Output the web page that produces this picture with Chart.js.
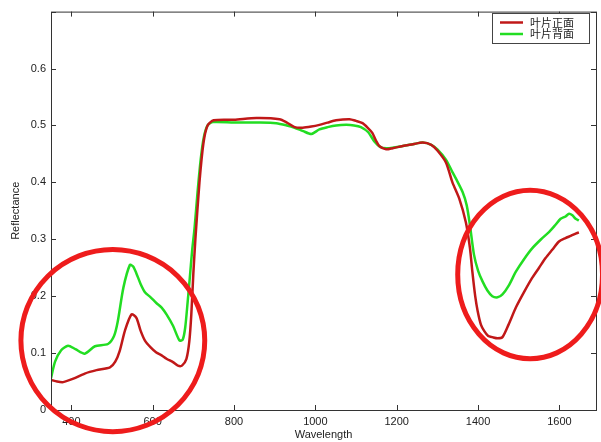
<!DOCTYPE html>
<html>
<head>
<meta charset="utf-8">
<script src="https://cdn.jsdelivr.net/npm/chart.js@4.4.0/dist/chart.umd.min.js"></script>
<style>
  html, body { margin: 0; padding: 0; background: #fff; }
  #wrap { width: 601px; height: 442px; }
</style>
</head>
<body>
<div id="wrap"><canvas id="specChart" width="601" height="442"></canvas></div>
<script>
const frontLabel = "叶片正面";
const backLabel = "叶片背面";

const frontWl = [350, 365, 380, 405, 433, 462, 495, 508, 519, 532, 548, 560, 570, 581, 595, 609, 622, 634, 650, 662, 672, 683, 690, 695, 700, 705, 715, 725, 735, 750, 800, 855, 912, 930, 949, 969, 990, 1010, 1030, 1051, 1084, 1100, 1116, 1130, 1140, 1150, 1157, 1174, 1190, 1215, 1240, 1264, 1285, 1300, 1321, 1337, 1354, 1370, 1380, 1386, 1393, 1399, 1407, 1415, 1425, 1435, 1448, 1460, 1475, 1493, 1513, 1533, 1550, 1566, 1583, 1599, 1615, 1628, 1640, 1648];
const frontVal = [0.053, 0.050, 0.049, 0.055, 0.064, 0.070, 0.075, 0.085, 0.104, 0.140, 0.168, 0.162, 0.140, 0.122, 0.110, 0.101, 0.096, 0.090, 0.084, 0.078, 0.078, 0.090, 0.120, 0.168, 0.240, 0.300, 0.400, 0.470, 0.500, 0.509, 0.510, 0.513, 0.511, 0.505, 0.497, 0.496, 0.498, 0.501, 0.505, 0.509, 0.511, 0.508, 0.504, 0.495, 0.487, 0.472, 0.464, 0.458, 0.460, 0.464, 0.467, 0.470, 0.466, 0.456, 0.435, 0.400, 0.371, 0.330, 0.285, 0.243, 0.200, 0.174, 0.150, 0.139, 0.130, 0.128, 0.126, 0.128, 0.150, 0.180, 0.207, 0.232, 0.250, 0.267, 0.282, 0.296, 0.302, 0.306, 0.310, 0.312];

const backWl = [350, 360, 375, 392, 410, 433, 458, 490, 505, 514, 528, 544, 552, 560, 570, 581, 595, 609, 622, 634, 650, 666, 674, 680, 686, 691, 697, 703, 710, 718, 726, 735, 748, 800, 860, 904, 930, 949, 970, 990, 1010, 1030, 1051, 1076, 1095, 1112, 1130, 1145, 1160, 1175, 1190, 1215, 1240, 1264, 1285, 1300, 1321, 1337, 1346, 1362, 1372, 1380, 1390, 1400, 1411, 1423, 1435, 1448, 1460, 1475, 1493, 1513, 1533, 1555, 1575, 1590, 1603, 1615, 1624, 1632, 1640, 1648];
const backVal = [0.056, 0.085, 0.105, 0.113, 0.107, 0.099, 0.112, 0.116, 0.130, 0.155, 0.215, 0.255, 0.252, 0.240, 0.222, 0.207, 0.198, 0.188, 0.180, 0.168, 0.148, 0.122, 0.124, 0.145, 0.190, 0.230, 0.280, 0.320, 0.380, 0.440, 0.480, 0.500, 0.506, 0.505, 0.505, 0.504, 0.500, 0.496, 0.490, 0.485, 0.493, 0.497, 0.500, 0.501, 0.500, 0.497, 0.488, 0.472, 0.462, 0.460, 0.461, 0.464, 0.467, 0.470, 0.466, 0.458, 0.440, 0.418, 0.406, 0.383, 0.360, 0.325, 0.273, 0.245, 0.226, 0.210, 0.200, 0.198, 0.203, 0.218, 0.243, 0.265, 0.284, 0.300, 0.313, 0.325, 0.336, 0.340, 0.345, 0.342, 0.336, 0.333];

const xTicks = [400, 600, 800, 1000, 1200, 1400, 1600];
const yTicks = [0, 0.1, 0.2, 0.3, 0.4, 0.5, 0.6, 0.7];

// the two hand-drawn red rings, in data units: [centre wl, centre refl, half width wl, half height refl]
const rings = [
  [502, 0.122, 226, 0.160],
  [1528, 0.238, 178, 0.148]
];

const tickFont = { family: "'Liberation Sans', Arial, sans-serif", size: 11 };

function toPoints(wl, val) {
  return wl.map((w, i) => ({ x: w, y: val[i] }));
}

const matlabFrame = {
  id: "matlabFrame",
  afterDraw(chart) {
    const ctx = chart.ctx;
    const a = chart.chartArea;
    const xs = chart.scales.x;
    const ys = chart.scales.y;
    ctx.save();
    ctx.strokeStyle = "#333";
    ctx.lineWidth = 1;
    ctx.strokeRect(a.left + 0.5, a.top + 0.5, a.right - a.left, a.bottom - a.top);
    ctx.beginPath();
    xTicks.forEach(v => {
      const px = Math.round(xs.getPixelForValue(v)) + 0.5;
      ctx.moveTo(px, a.bottom); ctx.lineTo(px, a.bottom - 5);
      ctx.moveTo(px, a.top); ctx.lineTo(px, a.top + 5);
    });
    yTicks.forEach(v => {
      const py = Math.round(ys.getPixelForValue(v)) + 0.5;
      ctx.moveTo(a.left, py); ctx.lineTo(a.left + 5, py);
      ctx.moveTo(a.right, py); ctx.lineTo(a.right - 5, py);
    });
    ctx.stroke();

    // legend box
    const bx = 492, by = 13, bw = 97, bh = 30;
    ctx.fillStyle = "#fff";
    ctx.fillRect(bx, by, bw, bh);
    ctx.strokeStyle = "#444";
    ctx.strokeRect(bx + 0.5, by + 0.5, bw, bh);
    ctx.font = "11px 'Noto Sans CJK SC'";
    ctx.textBaseline = "middle";
    chart.data.datasets.forEach((ds, i) => {
      const ly = by + 9.5 + i * 11.5;
      ctx.strokeStyle = ds.borderColor;
      ctx.lineWidth = 2.5;
      ctx.beginPath();
      ctx.moveTo(bx + 8, ly); ctx.lineTo(bx + 31, ly);
      ctx.stroke();
      ctx.fillStyle = "#222";
      ctx.fillText(ds.label, bx + 38, ly);
    });

    // red rings
    ctx.strokeStyle = "#ee1c1c";
    ctx.lineWidth = 5;
    rings.forEach(r => {
      const cx = xs.getPixelForValue(r[0]);
      const cy = ys.getPixelForValue(r[1]);
      const rx = Math.abs(xs.getPixelForValue(r[0] + r[2]) - cx);
      const ry = Math.abs(ys.getPixelForValue(r[1] + r[3]) - cy);
      ctx.beginPath();
      ctx.ellipse(cx, cy, rx, ry, 0, 0, Math.PI * 2);
      ctx.stroke();
    });
    ctx.restore();
  }
};

const ctx = document.getElementById("specChart").getContext("2d");
const chart = new Chart(ctx, {
  type: "line",
  data: {
    datasets: [
      {
        label: frontLabel,
        data: toPoints(frontWl, frontVal),
        borderColor: "#c01818",
        borderWidth: 2.5,
        pointRadius: 0,
        tension: 0.25
      },
      {
        label: backLabel,
        data: toPoints(backWl, backVal),
        borderColor: "#22dd22",
        borderWidth: 2.5,
        pointRadius: 0,
        tension: 0.25
      }
    ]
  },
  options: {
    responsive: false,
    animation: false,
    layout: { padding: { top: 10, right: 5, left: 0, bottom: 0 } },
    plugins: {
      legend: { display: false },
      tooltip: { enabled: false }
    },
    scales: {
      x: {
        type: "linear",
        min: 350,
        max: 1690,
        afterBuildTicks: s => { s.ticks = xTicks.map(v => ({ value: v })); },
        afterFit: s => { s.height = 32; },
        grid: { display: false, drawTicks: false },
        border: { display: false },
        ticks: { font: tickFont, color: "#222", padding: 5, maxRotation: 0, callback: v => String(v) },
        title: { display: true, text: "Wavelength", font: tickFont, color: "#222", padding: { top: 0, bottom: 0 } }
      },
      y: {
        min: 0,
        max: 0.7,
        afterBuildTicks: s => { s.ticks = yTicks.map(v => ({ value: v })); },
        afterFit: s => { s.width = 51; },
        grid: { display: false, drawTicks: false },
        border: { display: false },
        ticks: {
          font: tickFont,
          color: "#222",
          padding: 5,
          callback: v => (v >= 0.69 ? "" : (v === 0 ? "0" : v.toFixed(1)))
        },
        title: { display: true, text: "Reflectance", font: tickFont, color: "#222", padding: { top: 9, bottom: 0 } }
      }
    }
  },
  plugins: [matlabFrame]
});
</script>
</body>
</html>
